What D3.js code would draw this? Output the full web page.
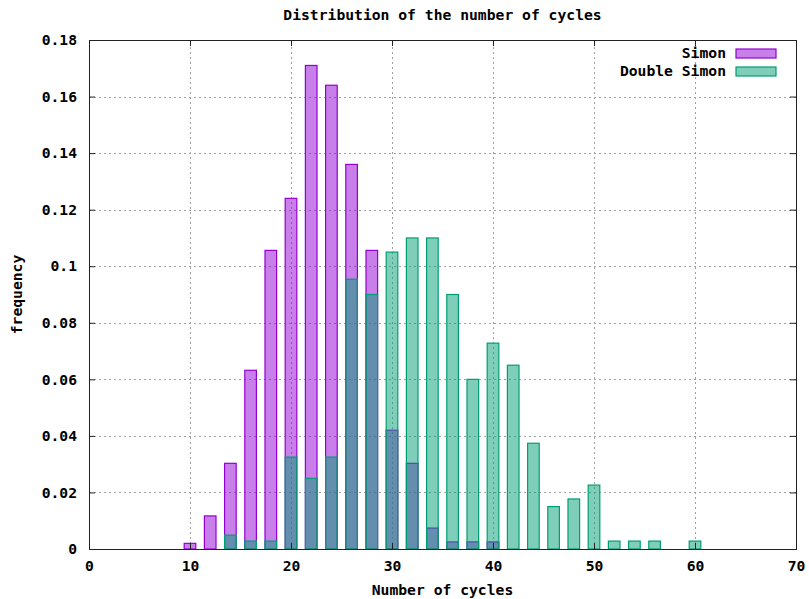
<!DOCTYPE html>
<html>

<head>
    <meta charset="utf-8">
    <script src="https://d3js.org/d3.v7.min.js"></script>
    <style>
        body {
            margin: 0;
            background: white;
        }

        text {
            font-family: "DejaVu Sans Mono", monospace;
            font-weight: bold;
            font-size: 14.7px;
            fill: black;
        }

        .grid line {
            stroke: #a0a0a0;
            stroke-width: 1px;
            stroke-dasharray: 2, 3;
        }
    </style>
</head>

<body>
    <script>
        // bar positions (number of cycles)
        let cycles = [10, 12, 14, 16, 18, 20, 22, 24, 26, 28, 30, 32, 34, 36, 38, 40,
            42, 44, 46, 48, 50, 52, 54, 56, 58, 60];
        let simon = [0.002, 0.0117, 0.0303, 0.0632, 0.1056, 0.124, 0.171, 0.164, 0.136, 0.1056,
            0.042, 0.0303, 0.0074, 0.0025, 0.0025, 0.0025, 0, 0, 0, 0, 0, 0, 0, 0, 0, 0];
        let doubleSimon = [0, 0, 0.0049, 0.0028, 0.0028, 0.0325, 0.025, 0.0325, 0.0954, 0.09,
            0.105, 0.11, 0.11, 0.09, 0.06, 0.0728, 0.065, 0.0374, 0.015, 0.0177, 0.0226,
            0.0028, 0.0028, 0.0028, 0, 0.0028];
        let xTicks = [0, 10, 20, 30, 40, 50, 60, 70];
        let yTicks = [0, 0.02, 0.04, 0.06, 0.08, 0.1, 0.12, 0.14, 0.16, 0.18];
        let seriesNames = ["Simon", "Double Simon"];
        let seriesColors = ["#9400d3", "#009e73"];

        let width = 809,
            height = 599;
        let margin = { left: 89, right: 13, top: 40, bottom: 50 };
        let boxWidth = 1.15;

        let svg = d3.select("body").append("svg")
            .attr("width", width)
            .attr("height", height);

        let x_scale = d3.scaleLinear()
            .domain([0, 70])
            .range([margin.left, width - margin.right]);
        let y_scale = d3.scaleLinear()
            .domain([0, 0.18])
            .range([height - margin.bottom, margin.top]);

        // grid
        let grid = svg.append("g").attr("class", "grid");
        grid.selectAll(".gx")
            .data(xTicks.filter(d => d > 0 && d < 70))
            .join("line")
            .attr("x1", d => x_scale(d) + 0.5)
            .attr("x2", d => x_scale(d) + 0.5)
            .attr("y1", y_scale(0))
            .attr("y2", y_scale(0.18));
        grid.selectAll(".gy")
            .data(yTicks.filter(d => d > 0 && d < 0.18))
            .join("line")
            .attr("class", "gy")
            .attr("x1", x_scale(0))
            .attr("x2", x_scale(70))
            .attr("y1", d => Math.round(y_scale(d)) + 0.5)
            .attr("y2", d => Math.round(y_scale(d)) + 0.5);

        // bars, Simon first then Double Simon on top, both half transparent
        [simon, doubleSimon].forEach(function(values, i) {
            let data = cycles.map((c, j) => ({ c: c, v: values[j] })).filter(d => d.v > 0);
            svg.append("g")
                .selectAll("rect")
                .data(data)
                .join("rect")
                .attr("x", d => x_scale(d.c - boxWidth / 2))
                .attr("width", x_scale(boxWidth) - x_scale(0))
                .attr("y", d => y_scale(d.v))
                .attr("height", d => y_scale(0) - y_scale(d.v))
                .style("fill", seriesColors[i])
                .style("fill-opacity", 0.5)
                .style("stroke", seriesColors[i])
                .style("stroke-width", 1.2);
        });

        // axes, ticks inward and mirrored
        let x_axis = d3.axisBottom(x_scale).tickValues(xTicks).tickSize(-6).tickPadding(12)
            .tickFormat(d3.format("d"));
        let y_axis = d3.axisLeft(y_scale).tickValues(yTicks).tickSize(-6).tickPadding(12)
            .tickFormat(d => d === 0 ? "0" : d3.format("")(+d.toFixed(2)));

        svg.append("g")
            .attr("transform", "translate(0," + y_scale(0) + ")")
            .call(x_axis);
        svg.append("g")
            .attr("transform", "translate(" + x_scale(0) + ",0)")
            .call(y_axis);
        svg.append("g")
            .attr("transform", "translate(0," + y_scale(0.18) + ")")
            .call(d3.axisTop(x_scale).tickValues(xTicks).tickSize(-6).tickFormat(""));
        svg.append("g")
            .attr("transform", "translate(" + x_scale(70) + ",0)")
            .call(d3.axisRight(y_scale).tickValues(yTicks).tickSize(-6).tickFormat(""));
        svg.selectAll(".domain").style("stroke", "#222");
        svg.selectAll(".tick line").style("stroke", "#222");
        svg.selectAll("g").attr("font-family", null).attr("font-size", null);

        // titles
        svg.append("text")
            .text("Distribution of the number of cycles")
            .attr("x", (margin.left + width - margin.right) / 2)
            .attr("y", 20)
            .style("text-anchor", "middle");
        svg.append("text")
            .text("Number of cycles")
            .attr("x", (margin.left + width - margin.right) / 2)
            .attr("y", 595)
            .style("text-anchor", "middle");
        svg.append("text")
            .text("frequency")
            .attr("transform", "translate(22," + (margin.top + height - margin.bottom) / 2 + ") rotate(-90)")
            .style("text-anchor", "middle");

        // legend
        let legend = svg.append("g");
        seriesNames.forEach(function(name, i) {
            let ly = 53 + i * 18;
            legend.append("text")
                .text(name)
                .attr("x", 726)
                .attr("y", ly + 5)
                .style("text-anchor", "end");
            legend.append("rect")
                .attr("x", 736)
                .attr("y", ly - 4)
                .attr("width", 40)
                .attr("height", 9)
                .style("fill", seriesColors[i])
                .style("fill-opacity", 0.5)
                .style("stroke", seriesColors[i])
                .style("stroke-width", 1.2);
        });
    </script>
</body>

</html>
